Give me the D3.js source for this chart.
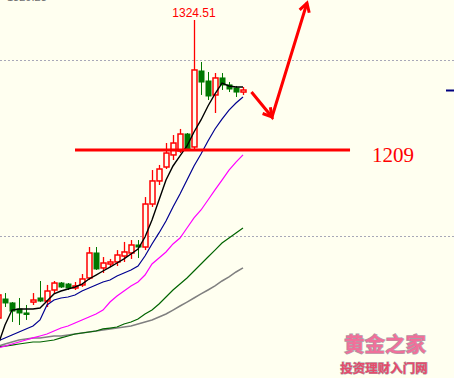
<!DOCTYPE html>
<html><head><meta charset="utf-8">
<script src="https://cdn.jsdelivr.net/npm/d3@7"></script>
<style>html,body{margin:0;padding:0;background:#fffff0;overflow:hidden}</style>
</head><body><svg id="c" width="454" height="378"></svg>
<script>
// bar index runs from -1 (partly cut off at the left edge) to 34
const bars  = d3.range(-1, 35);
const opens = [1059.7,1076.6,1073.1,1067.7,1064.2,1073.9,1077.5,1074.8,1084.6,1090.8,1089.9,1086.4,1089.1,1095.3,1117.5,1104.2,1107.7,1109.5,1114.8,1117.5,1124.6,1122.8,1161.0,1181.5,1193.9,1204.6,1208.1,1223.2,1211.7,1279.2,1270.3,1257.9,1273.0,1266.8,1264.1,1260.5];
const highs = [1081.9,1081.9,1073.9,1077.5,1071.3,1081.9,1092.6,1089.1,1092.6,1091.7,1090.8,1091.7,1098.8,1122.8,1122.8,1113.9,1112.2,1120.1,1127.3,1129.0,1129.0,1167.2,1191.2,1195.7,1215.2,1222.3,1227.7,1224.1,1324.51,1287.2,1278.3,1277.4,1277.4,1269.4,1265.9,1265.0];
const lows  = [1058.0,1069.5,1056.2,1053.5,1058.0,1071.3,1073.9,1069.5,1081.1,1086.4,1084.6,1084.6,1087.3,1093.5,1102.4,1099.7,1105.0,1105.9,1109.5,1112.2,1113.0,1120.1,1158.4,1177.9,1192.1,1200.1,1206.3,1209.0,1209.0,1257.9,1253.4,1241.9,1262.3,1260.5,1256.1,1257.9];
const closes= [1080.2,1073.1,1065.9,1064.2,1063.3,1075.7,1074.8,1083.7,1090.8,1087.3,1086.4,1088.2,1094.4,1117.5,1103.3,1108.6,1109.5,1115.7,1118.4,1124.6,1122.8,1161.0,1181.5,1192.1,1206.3,1215.2,1223.2,1209.0,1280.1,1269.4,1257.0,1273.0,1266.8,1263.2,1260.5,1262.3];

const ma5  = [1035.7,1053.5,1066.8,1067.7,1067.7,1067.7,1068.6,1074.8,1081.1,1083.7,1085.5,1087.3,1089.9,1094.4,1097.9,1101.5,1105.0,1108.6,1112.2,1116.6,1121.0,1131.7,1146.8,1164.6,1182.3,1194.8,1203.7,1212.6,1225.0,1235.7,1248.1,1258.8,1268.5,1265.9,1265.0,1265.0];
const ma10 = [1039.3,1042.0,1044.6,1047.3,1050.0,1052.6,1058.0,1071.3,1075.7,1077.5,1078.4,1080.2,1083.7,1086.4,1089.1,1091.7,1093.5,1097.0,1099.7,1102.4,1105.9,1114.8,1125.5,1135.3,1145.9,1158.4,1169.9,1182.3,1194.8,1205.4,1217.0,1227.7,1236.5,1244.5,1250.8,1256.1];
const ma20 = [1033.1,1034.8,1036.6,1038.4,1040.2,1042.0,1043.7,1045.5,1048.2,1050.8,1052.6,1055.3,1058.0,1060.6,1063.3,1066.8,1073.9,1079.3,1083.7,1088.2,1091.7,1097.9,1107.7,1113.0,1118.4,1125.5,1130.8,1139.7,1148.6,1155.7,1164.6,1173.5,1182.3,1191.2,1198.3,1204.6];
const ma40 = [1034.0,1034.8,1035.7,1036.6,1037.5,1038.4,1038.4,1039.3,1040.2,1042.0,1043.7,1045.5,1046.4,1047.3,1048.2,1050.0,1050.8,1051.7,1054.4,1056.2,1058.8,1063.3,1066.8,1072.2,1078.4,1084.6,1089.9,1095.3,1101.5,1107.7,1113.9,1120.1,1126.4,1130.8,1135.3,1139.7];
const ma60 = [1034.8,1036.6,1038.4,1040.2,1041.1,1042.0,1042.0,1042.8,1043.7,1043.7,1044.6,1045.5,1046.4,1047.3,1048.2,1049.1,1050.0,1050.8,1051.7,1052.6,1054.4,1056.2,1058.0,1060.6,1063.3,1066.8,1070.4,1073.9,1077.5,1081.1,1084.6,1088.2,1092.6,1096.2,1100.6,1104.2];

const gridValues = [1289.0, 1132.6];
const keyLevel = 1209;
const highLabel = "1324.51";
const highBar = 27;
const topCutLabel = "1320.23";
// hand-drawn forecast arrow, in (bar index, price)
const arrowPts = [[35.21,1260.5],[38.14,1238.3],[43.14,1339.6]];
const levelLineFrom = 10, levelLineTo = 49.29, levelTextAt = 52.43;
const wmTop = "黄金之家", wmBottom = "投资理财入门网";

const W = 454, H = 378, BG = "#fffff0";
const svg = d3.select("#c");
svg.append("rect").attr("width", W).attr("height", H).attr("fill", BG);

const x = d3.scaleLinear().domain([-1, 34]).range([-2, 243]);
const y = d3.scaleLinear().domain([1209, 1324.51]).range([150, 20]);

// grid
svg.selectAll(".grid").data(gridValues).join("line")
  .attr("x1", 0).attr("x2", W)
  .attr("y1", d => Math.round(y(d)) + 0.5).attr("y2", d => Math.round(y(d)) + 0.5)
  .attr("stroke", "#a8a8b8").attr("stroke-width", 1).attr("stroke-dasharray", "2,2");

// cut-off top label (only its lowest pixels are visible)
svg.append("text").attr("x", 7).attr("y", 0.8).text(topCutLabel)
  .attr("font-family", "Liberation Sans, Arial, sans-serif").attr("font-size", 11).attr("fill", "#707070");

// candles
const RED = "#ff0000", GREEN = "#007800";
const bw = 5;
const cg = svg.append("g");
bars.forEach((b, k) => {
  const o = opens[k], c = closes[k], h = highs[k], l = lows[k];
  const up = c >= o;
  const col = up ? RED : GREEN;
  const cx = Math.round(x(b)) + 0.5;
  cg.append("line").attr("x1", cx).attr("x2", cx).attr("y1", y(h)).attr("y2", y(l))
    .attr("stroke", col).attr("stroke-width", up ? 1.3 : 1);
  const top = y(Math.max(o, c)), bot = y(Math.min(o, c));
  const hgt = Math.max(1.5, bot - top);
  cg.append("rect").attr("x", cx - bw / 2).attr("width", bw)
    .attr("y", top).attr("height", hgt)
    .attr("fill", up ? BG : GREEN).attr("stroke", col).attr("stroke-width", up ? 1.5 : 1);
});

// moving averages
const line = d3.line().x((d, k) => x(bars[k])).y(d => y(d));
[[ma60, "#808080", 1.5], [ma40, "#006400", 1.2], [ma20, "#ff00ff", 1.2], [ma10, "#000090", 1.2], [ma5, "#000000", 1.4]]
  .forEach(([data, col, w]) => {
    svg.append("path").attr("d", line(data)).attr("fill", "none").attr("stroke", col).attr("stroke-width", w);
  });

// key level line and label
svg.append("line").attr("x1", x(levelLineFrom)).attr("x2", x(levelLineTo))
  .attr("y1", y(keyLevel)).attr("y2", y(keyLevel)).attr("stroke", RED).attr("stroke-width", 3);
svg.append("text").attr("x", x(levelTextAt)).attr("y", y(keyLevel) + 12).text(String(keyLevel))
  .attr("font-family", "Liberation Serif, Times New Roman, serif").attr("font-size", 21).attr("fill", RED);

// high label
svg.append("text").attr("x", x(highBar)).attr("y", y(highs[highBar + 1]) - 3).text(highLabel)
  .attr("text-anchor", "middle").attr("font-family", "Liberation Sans, Arial, sans-serif")
  .attr("font-size", 12).attr("fill", RED);

// arrow
const ap = arrowPts.map(([i, p]) => [x(i), y(p)]);
svg.append("path").attr("d", d3.line()(ap)).attr("fill", "none").attr("stroke", RED)
  .attr("stroke-width", 3).attr("stroke-linejoin", "miter");
function head(tip, from, len) {
  const dx = from[0] - tip[0], dy = from[1] - tip[1], n = Math.hypot(dx, dy);
  const ux = dx / n, uy = dy / n, a = Math.PI / 6;
  const w1 = [tip[0] + len * (ux * Math.cos(a) - uy * Math.sin(a)), tip[1] + len * (ux * Math.sin(a) + uy * Math.cos(a))];
  const w2 = [tip[0] + len * (ux * Math.cos(a) + uy * Math.sin(a)), tip[1] + len * (-ux * Math.sin(a) + uy * Math.cos(a))];
  svg.append("path").attr("d", d3.line()([w1, tip, w2])).attr("fill", "none")
    .attr("stroke", RED).attr("stroke-width", 3);
}
head(ap[1], ap[0], 10);
head(ap[2], ap[1], 10);

// right edge marker
svg.append("line").attr("x1", 446).attr("x2", W).attr("y1", 90.5).attr("y2", 90.5)
  .attr("stroke", "#000080").attr("stroke-width", 2);

// watermark
svg.append("text").attr("x", 385).attr("y", 352).text(wmTop).attr("text-anchor", "middle")
  .attr("font-family", "Noto Sans CJK SC").attr("font-weight", "bold").attr("font-size", 20.5)
  .attr("fill", "#f0709a").attr("stroke", "#a8a0a8").attr("stroke-width", 1.2).attr("paint-order", "stroke");
svg.append("text").attr("x", 384).attr("y", 373).text(wmBottom).attr("text-anchor", "middle")
  .attr("font-family", "Noto Sans CJK SC").attr("font-weight", "bold").attr("font-size", 12.5)
  .attr("fill", "#e84a6a").attr("stroke", "#a8a0a8").attr("stroke-width", 1).attr("paint-order", "stroke");
</script></body></html>
